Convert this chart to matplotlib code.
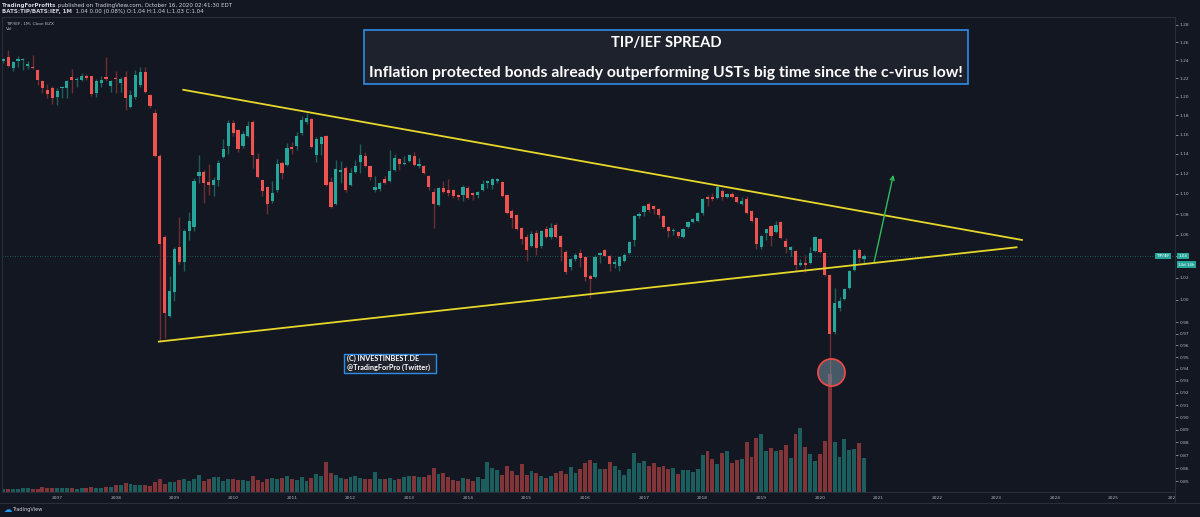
import numpy as np
import pandas as pd
import matplotlib
matplotlib.use("Agg")
import matplotlib.pyplot as plt
from matplotlib.patches import Rectangle
from matplotlib.ticker import NullLocator

# monthly TIP/IEF candles, Feb 2006 .. Oct 2020
months = pd.date_range("2006-02-01", "2020-10-01", freq="MS")

opens = [1.239, 1.244, 1.231, 1.239, 1.240, 1.234, 1.233, 1.229, 1.217, 1.207,
         1.209, 1.200, 1.209, 1.209, 1.221, 1.218, 1.218, 1.222, 1.222, 1.204,
         1.215, 1.221, 1.212, 1.220, 1.215, 1.221, 1.189, 1.200, 1.213, 1.227,
         1.202, 1.183, 1.138, 1.058, 0.986, 1.007, 1.049, 1.035, 1.064, 1.068,
         1.118, 1.122, 1.112, 1.109, 1.114, 1.137, 1.148, 1.172, 1.165, 1.148,
         1.158, 1.173, 1.135, 1.114, 1.107, 1.093, 1.104, 1.131, 1.129, 1.147,
         1.148, 1.162, 1.173, 1.176, 1.139, 1.150, 1.158, 1.112, 1.090, 1.122,
         1.126, 1.109, 1.122, 1.132, 1.138, 1.128, 1.104, 1.105, 1.115, 1.113,
         1.124, 1.135, 1.130, 1.133, 1.138, 1.128, 1.128, 1.118, 1.102, 1.089,
         1.106, 1.104, 1.104, 1.099, 1.099, 1.106, 1.101, 1.099, 1.104, 1.111,
         1.109, 1.113, 1.112, 1.099, 1.083, 1.079, 1.067, 1.058, 1.050, 1.062,
         1.050, 1.066, 1.058, 1.070, 1.059, 1.044, 1.030, 1.037, 1.043, 1.039,
         1.022, 1.021, 1.041, 1.046, 1.040, 1.033, 1.031, 1.036, 1.043, 1.055,
         1.078, 1.082, 1.090, 1.088, 1.085, 1.078, 1.068, 1.064, 1.063, 1.058,
         1.068, 1.072, 1.073, 1.081, 1.097, 1.097, 1.096, 1.103, 1.097, 1.100,
         1.097, 1.090, 1.095, 1.083, 1.076, 1.049, 1.062, 1.069, 1.063, 1.072,
         1.054, 1.046, 1.045, 1.032, 1.034, 1.034, 1.045, 1.056, 1.043, 1.023,
         0.972, 0.993, 1.001, 1.011, 1.027, 1.046, 1.037]
highs = [1.242, 1.251, 1.239, 1.245, 1.242, 1.239, 1.246, 1.230, 1.218, 1.214,
         1.212, 1.209, 1.212, 1.218, 1.230, 1.221, 1.226, 1.225, 1.223, 1.219,
         1.223, 1.243, 1.218, 1.228, 1.221, 1.228, 1.207, 1.229, 1.232, 1.233,
         1.203, 1.187, 1.140, 1.060, 1.022, 1.049, 1.077, 1.066, 1.082, 1.116,
         1.139, 1.124, 1.130, 1.117, 1.134, 1.155, 1.175, 1.175, 1.166, 1.164,
         1.174, 1.175, 1.141, 1.115, 1.108, 1.113, 1.135, 1.133, 1.151, 1.152,
         1.163, 1.179, 1.183, 1.177, 1.157, 1.158, 1.160, 1.117, 1.134, 1.133,
         1.128, 1.126, 1.134, 1.150, 1.142, 1.129, 1.118, 1.112, 1.118, 1.144,
         1.140, 1.136, 1.138, 1.140, 1.142, 1.136, 1.129, 1.119, 1.106, 1.107,
         1.113, 1.115, 1.105, 1.100, 1.109, 1.108, 1.102, 1.103, 1.114, 1.114,
         1.116, 1.116, 1.113, 1.100, 1.085, 1.080, 1.068, 1.061, 1.064, 1.065,
         1.065, 1.069, 1.071, 1.071, 1.060, 1.046, 1.038, 1.043, 1.047, 1.040,
         1.024, 1.041, 1.044, 1.047, 1.041, 1.037, 1.040, 1.043, 1.054, 1.079,
         1.082, 1.089, 1.092, 1.089, 1.086, 1.079, 1.069, 1.067, 1.064, 1.067,
         1.073, 1.076, 1.082, 1.096, 1.099, 1.101, 1.109, 1.105, 1.101, 1.102,
         1.098, 1.097, 1.098, 1.084, 1.077, 1.060, 1.066, 1.070, 1.073, 1.073,
         1.057, 1.050, 1.046, 1.037, 1.041, 1.049, 1.059, 1.057, 1.044, 1.024,
         1.011, 1.003, 1.010, 1.027, 1.047, 1.048, 1.042]
lows = [1.237, 1.233, 1.228, 1.232, 1.229, 1.230, 1.230, 1.213, 1.204, 1.199,
        1.192, 1.191, 1.199, 1.199, 1.204, 1.210, 1.217, 1.218, 1.201, 1.200,
        1.211, 1.217, 1.205, 1.204, 1.205, 1.186, 1.188, 1.198, 1.211, 1.204,
        1.188, 1.137, 0.963, 0.966, 0.985, 0.999, 1.033, 1.026, 1.055, 1.064,
        1.111, 1.091, 1.099, 1.098, 1.108, 1.136, 1.140, 1.158, 1.142, 1.146,
        1.157, 1.126, 1.116, 1.098, 1.080, 1.091, 1.102, 1.115, 1.128, 1.140,
        1.144, 1.159, 1.171, 1.146, 1.132, 1.139, 1.108, 1.086, 1.089, 1.111,
        1.102, 1.108, 1.121, 1.121, 1.127, 1.114, 1.102, 1.103, 1.110, 1.112,
        1.123, 1.124, 1.129, 1.132, 1.128, 1.126, 1.120, 1.104, 1.067, 1.088,
        1.101, 1.098, 1.096, 1.094, 1.093, 1.095, 1.094, 1.096, 1.103, 1.106,
        1.105, 1.111, 1.097, 1.080, 1.067, 1.065, 1.051, 1.036, 1.049, 1.041,
        1.048, 1.057, 1.056, 1.057, 1.036, 1.024, 1.027, 1.036, 1.030, 1.017,
        1.002, 1.020, 1.034, 1.039, 1.026, 1.029, 1.026, 1.035, 1.042, 1.050,
        1.076, 1.078, 1.082, 1.080, 1.076, 1.067, 1.058, 1.060, 1.057, 1.057,
        1.067, 1.071, 1.072, 1.079, 1.088, 1.093, 1.095, 1.094, 1.096, 1.096,
        1.091, 1.089, 1.080, 1.072, 1.047, 1.047, 1.055, 1.050, 1.062, 1.056,
        1.043, 1.040, 1.026, 1.031, 1.025, 1.033, 1.044, 1.043, 1.022, 0.936,
        0.970, 0.990, 1.000, 1.010, 1.026, 1.035, 1.034]
closes = [1.241, 1.234, 1.238, 1.241, 1.241, 1.236, 1.231, 1.218, 1.209, 1.203,
          1.199, 1.206, 1.211, 1.217, 1.218, 1.219, 1.222, 1.220, 1.203, 1.217,
          1.218, 1.219, 1.217, 1.219, 1.219, 1.199, 1.202, 1.224, 1.227, 1.205,
          1.190, 1.138, 1.051, 0.988, 1.008, 1.047, 1.035, 1.064, 1.073, 1.113,
          1.122, 1.111, 1.109, 1.114, 1.131, 1.145, 1.172, 1.162, 1.145, 1.161,
          1.169, 1.139, 1.117, 1.103, 1.090, 1.101, 1.130, 1.121, 1.146, 1.145,
          1.158, 1.175, 1.177, 1.147, 1.155, 1.157, 1.109, 1.087, 1.125, 1.124,
          1.104, 1.121, 1.128, 1.139, 1.128, 1.117, 1.107, 1.111, 1.111, 1.123,
          1.136, 1.130, 1.131, 1.139, 1.129, 1.130, 1.121, 1.107, 1.090, 1.106,
          1.102, 1.101, 1.098, 1.097, 1.107, 1.096, 1.099, 1.102, 1.110, 1.113,
          1.115, 1.114, 1.098, 1.081, 1.076, 1.066, 1.056, 1.046, 1.061, 1.048,
          1.064, 1.058, 1.067, 1.058, 1.049, 1.025, 1.037, 1.041, 1.038, 1.021,
          1.019, 1.039, 1.043, 1.040, 1.033, 1.034, 1.039, 1.041, 1.053, 1.078,
          1.080, 1.088, 1.084, 1.085, 1.079, 1.068, 1.064, 1.065, 1.059, 1.066,
          1.072, 1.075, 1.081, 1.095, 1.095, 1.095, 1.107, 1.097, 1.100, 1.097,
          1.092, 1.093, 1.081, 1.073, 1.051, 1.059, 1.066, 1.059, 1.070, 1.057,
          1.049, 1.049, 1.032, 1.034, 1.032, 1.043, 1.058, 1.044, 1.023, 0.970,
          0.997, 0.999, 1.010, 1.026, 1.046, 1.038, 1.040]
# volume in relative units
volume = [9, 10, 10, 10, 11, 12, 10, 10, 15, 12, 13, 12, 11, 12, 11, 9, 13, 13, 16, 13,
          13, 16, 14, 22, 22, 27, 25, 22, 20, 22, 19, 29, 38, 25, 29, 29, 35, 38, 32, 38,
          51, 34, 40, 45, 45, 32, 40, 40, 35, 37, 33, 49, 35, 30, 40, 43, 38, 41, 49, 38,
          37, 45, 34, 41, 55, 49, 89, 57, 51, 43, 39, 45, 47, 43, 38, 40, 59, 40, 40, 42,
          37, 40, 45, 47, 48, 45, 46, 51, 72, 55, 57, 46, 37, 32, 43, 39, 34, 45, 40, 90,
          73, 67, 50, 78, 64, 50, 84, 51, 63, 57, 49, 43, 47, 56, 64, 55, 75, 57, 70, 87,
          95, 88, 70, 69, 90, 78, 65, 52, 69, 116, 88, 93, 77, 87, 74, 77, 69, 72, 53, 67,
          67, 59, 69, 111, 124, 99, 84, 118, 123, 87, 97, 99, 149, 105, 162, 174, 123, 131, 124, 127,
          141, 103, 175, 192, 135, 113, 92, 115, 154, 354, 150, 104, 159, 126, 128, 147, 103]

year_labels = [str(y) for y in range(2007, 2026)] + ["202"]
price_ticks = [1.28, 1.26, 1.24, 1.22, 1.20, 1.18, 1.16, 1.14, 1.12, 1.10, 1.08,
               1.06, 1.04, 1.02, 1.00, 0.98, 0.97, 0.96, 0.95, 0.94, 0.93, 0.92,
               0.91, 0.90, 0.89, 0.88, 0.87, 0.86, 0.85]

# drawn lines: (month index, price) anchors
upper_line = ([36.8, 208.3], [1.2075, 1.0553])
lower_line = ([31.8, 207.2], [0.9633, 1.0484])
arrow_from = (178.1, 1.035)
arrow_to = (182.0, 1.1187)
low_mark = (169.2, 0.9378)

BG = "#131722"
UP = "#26a69a"
DOWN = "#ef5350"
TXT = "#b2b5be"
EDGE = "#2a2e39"
W, H = 1200, 517

o = np.array(opens); h = np.array(highs); l = np.array(lows); c = np.array(closes)
x = np.arange(len(months))
up = c >= o
cols = np.where(up, UP, DOWN)

fig = plt.figure(figsize=(W / 100, H / 100), dpi=100, facecolor=BG)


def px_box(left, top, right, bottom):
    return [left / W, 1 - bottom / H, (right - left) / W, (bottom - top) / H]


pos = px_box(2, 17, 1175, 492)
axv = fig.add_axes(pos)
ax = fig.add_axes(pos, sharex=axv)
axv.axis("off")
ax.patch.set_alpha(0)

# volume
axv.bar(x, volume, width=0.8, color=cols, alpha=0.5, linewidth=0)
axv.set_ylim(0, 1425)

# candles
wick_cols = np.where(up, "#1d5f5a", "#6e2d33")
ax.vlines(x, l, h, colors=wick_cols, linewidth=1, zorder=2)
body = np.maximum(np.abs(c - o), 0.0012)
ax.bar(x, body, bottom=np.minimum(o, c), width=0.65, color=cols, linewidth=0, zorder=3)

ax.set_yscale("log")
ax.set_ylim(0.8417, 1.289)
ax.set_xlim(-0.27, 239.6)

ax.axhline(closes[-1], color=UP, linestyle=(0, (1, 2)), linewidth=0.6, alpha=0.6, zorder=1)

ax.plot(*upper_line, color="#e6d72a", linewidth=1.3, zorder=4)
ax.plot(*lower_line, color="#e6d72a", linewidth=1.3, zorder=4)
ax.annotate("", xy=arrow_to, xytext=arrow_from,
            arrowprops=dict(arrowstyle="->", color="#2ebd59", lw=1.0,
                            shrinkA=0, shrinkB=0, mutation_scale=7), zorder=5)
ax.plot(*low_mark, marker="o", markersize=19.5, markerfacecolor=(0.45, 0.56, 0.63, 0.55),
        markeredgecolor="#e84a4a", markeredgewidth=1.3, zorder=6)

# axes styling; the last-price badge covers the 1.04 label
ax.yaxis.tick_right()
ax.set_yticks(price_ticks, labels=["" if p == 1.04 else f"{p:.2f}" for p in price_ticks])
ax.yaxis.set_minor_locator(NullLocator())
ax.set_xticks([11 + 12 * k for k in range(len(year_labels))], labels=year_labels)
ax.tick_params(axis="y", labelsize=3.2, colors=TXT, length=2, width=0.5, pad=1.5)
ax.tick_params(axis="x", labelsize=3.2, colors=TXT, length=0, pad=3)
for sp in ax.spines.values():
    sp.set_color(EDGE)
    sp.set_linewidth(0.8)

# overlay in pixel coordinates for annotations
ov = fig.add_axes([0, 0, 1, 1])
ov.set_xlim(0, W)
ov.set_ylim(H, 0)
ov.axis("off")
ov.patch.set_alpha(0)
ov.plot([0, W], [503, 503], color=EDGE, lw=0.8)
ov.plot([1175, 1175], [492, 503], color=EDGE, lw=0.8)

title_font = ["Lato", "DejaVu Sans"]
ov.add_patch(Rectangle((364, 30), 604, 54, facecolor="#1e222d", edgecolor="#2d8ce6", lw=1.2))
ov.text(666, 43, "TIP/IEF SPREAD", ha="center", va="center", color="white",
        fontsize=10.6, fontweight="bold", family=title_font)
ov.text(666, 72.5, "Inflation protected bonds already outperforming USTs big time since the c-virus low!",
        ha="center", va="center", color="white", fontsize=11.3, fontweight="bold",
        family=title_font)

ov.add_patch(Rectangle((344, 354), 92, 19, facecolor="#1e222d", edgecolor="#2d8ce6", lw=1.0))
ov.text(347, 358.8, "(C) INVESTINBEST.DE", ha="left", va="center", color="white",
        fontsize=5.2, fontweight="bold", family=title_font)
ov.text(347, 367.3, "@TradingForPro (Twitter)", ha="left", va="center", color="white",
        fontsize=5.2, fontweight="bold", family=title_font)

renderer = fig.canvas.get_renderer()


def text_run(x0, y0, parts, **kw):
    for s, weight in parts:
        t = ov.text(x0, y0, s, fontweight=weight, ha="left", va="center", **kw)
        x0 += t.get_window_extent(renderer=renderer).width


text_run(2, 5, [("TradingForProfits", "bold"),
                (" published on TradingView.com, October 16, 2020 02:41:30 EDT", "normal")],
         color="#d1d4dc", fontsize=4.0)
text_run(2, 11.5, [("BATS:TIP/BATS:IEF, 1M", "bold"),
                   ("  1.04 0.00 (0.08%) O:1.04 H:1.04 L:1.03 C:1.04", "normal")],
         color="#d1d4dc", fontsize=4.0)
ov.text(6, 24, "TIP/IEF, 1M, Cboe BZX", color=TXT, fontsize=3.2, va="center")
ov.text(6, 29.5, "Vol", color=TXT, fontsize=3.2, va="center")

ov.text(1163, 256, "TIP/IEF", ha="center", va="center", color="white", fontsize=3,
        bbox=dict(boxstyle="square,pad=0.3", fc=UP, ec="none"))
ov.text(1183, 256, "1.04", ha="center", va="center", color="white", fontsize=3,
        bbox=dict(boxstyle="square,pad=0.3", fc=UP, ec="none"))
ov.text(1186, 264.5, "14d 14h", ha="center", va="center", color="white", fontsize=3,
        bbox=dict(boxstyle="square,pad=0.3", fc=UP, ec="none"))

ov.text(4, 510, "\u2601", color="#2196f3", fontsize=6, va="center")
ov.text(12, 510, "TradingView", color="#d1d4dc", fontsize=3.6, va="center")

fig.savefig("out.png", dpi=100, facecolor=BG)
